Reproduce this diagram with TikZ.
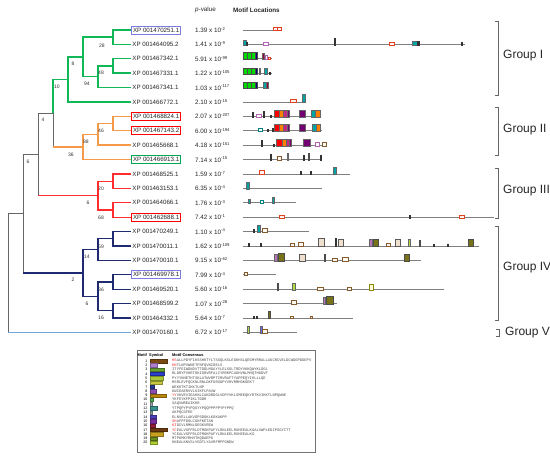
\documentclass[tikz,border=0pt]{standalone}
\usepackage{fontspec}
\setmainfont{Liberation Sans}
\newfontfamily\seqf{Liberation Mono}
\definecolor{cgrn}{HTML}{10B858}
\definecolor{corg}{HTML}{F59A48}
\definecolor{cred}{HTML}{FF2D2D}
\definecolor{cnav}{HTML}{1F2A70}
\definecolor{cblu}{HTML}{6FA8E0}
\definecolor{cbxb}{HTML}{7B7BE0}
\definecolor{cbxr}{HTML}{FF0000}
\definecolor{cbxg}{HTML}{00A650}
\definecolor{m1}{HTML}{7B4A12}
\definecolor{m2}{HTML}{B07FD0}
\definecolor{m3}{HTML}{66A032}
\definecolor{m4}{HTML}{2B3FD0}
\definecolor{m5}{HTML}{A8C83A}
\definecolor{m6}{HTML}{C8C840}
\definecolor{m7}{HTML}{2A3A9A}
\definecolor{m8}{HTML}{8A4FB0}
\definecolor{m9}{HTML}{B8860B}
\definecolor{m10}{HTML}{4CAF50}
\definecolor{m11}{HTML}{9AA0A6}
\definecolor{m12}{HTML}{3A8F8F}
\definecolor{m13}{HTML}{8FA0A0}
\definecolor{m14}{HTML}{4B3FBF}
\definecolor{m15}{HTML}{7A2FA0}
\definecolor{m16}{HTML}{9A1F3F}
\definecolor{m17}{HTML}{6B3A10}
\definecolor{m18}{HTML}{C8A020}
\definecolor{m19}{HTML}{6B8E23}
\definecolor{m20}{HTML}{B0D030}
\newcommand\pexp[1]{\raisebox{2.3pt}{\fontsize{4.2}{4.2}\selectfont #1}}
\newcommand\mrow[3]{%
  \draw[mline] (243,#1) -- (#2,#1);
  \foreach \x/\w/\h/\s in {#3} {\path[\s] (\x,#1+0.6) rectangle ++(\w,-\h);}%
}
\newcommand\lrow[4]{%
  \pgfmathsetmacro\ly{361+4.3*(#1-1)}
  \node[lnum] (n#1) at (147.5,\ly) {#1};
  \filldraw[fill=#3,draw=#3!70!black,line width=0.2pt] (150,\ly-1.7) rectangle ++(#2,3.4);
  \node[lseq] (s#1) at (172,\ly) {#4};
}
\newcommand\rd[1]{\textcolor{red!85}{#1}}
\begin{document}
\begin{tikzpicture}[x=1pt,y=-1pt,
  leaf/.style={anchor=west,inner sep=1.2pt,font=\fontsize{6.2}{7}\selectfont,text=black!85},
  bx/.style={draw=#1,line width=0.9pt,inner ysep=1.8pt,inner xsep=1.6pt},
  pv/.style={anchor=west,inner sep=0pt,font=\fontsize{6.3}{7}\selectfont,text=black!85},
  bs/.style={inner sep=0pt,font=\fontsize{5}{5}\selectfont,text=black!80},
  gbr/.style={draw=cgrn,line width=1.4pt},
  obr/.style={draw=corg,line width=1.4pt},
  rbr/.style={draw=cred,line width=1.3pt},
  nbr/.style={draw=cnav,line width=1.3pt},
  kbr/.style={draw=black!60,line width=0.8pt},
  bbr/.style={draw=cblu,line width=1.3pt},
  mline/.style={draw=black!50,line width=0.8pt},
  brk/.style={draw=black!60,line width=0.7pt},
  grp/.style={anchor=west,inner sep=0pt,font=\fontsize{12}{13}\selectfont,text=black!85},
  lnum/.style={anchor=east,inner sep=0pt,font=\fontsize{3.6}{4}\selectfont},
  lseq/.style={anchor=west,inner sep=0pt,font=\seqf\fontsize{3.8}{4}\selectfont,text=black!70},
  lhd/.style={anchor=west,inner sep=0pt,font=\bfseries\fontsize{3.9}{4}\selectfont},
  sG/.style={fill=green!85!black,draw=black!70,line width=0.35pt},
  sD/.style={fill=black!80,draw=black!80,line width=0.35pt},
  sT/.style={fill=teal!70!cyan,draw=black!60,line width=0.35pt},
  hP/.style={fill=red!5,draw=red!50!brown,line width=0.35pt},
  hL/.style={fill=white,draw=violet!60,line width=0.35pt},
  hN/.style={fill=brown!5,draw=brown!70!black,line width=0.35pt},
  hT/.style={fill=white,draw=teal,line width=0.35pt},
  hY/.style={fill=yellow!15,draw=olive,line width=0.35pt},
  sR/.style={fill=red,draw=black!60,line width=0.35pt},
  sO/.style={fill=orange,draw=black!60,line width=0.35pt},
  sM/.style={fill=magenta!80!black,draw=black!60,line width=0.35pt},
  sQ/.style={fill=purple!80!black,draw=black!60,line width=0.35pt},
  sU/.style={fill=violet!90!black,draw=black!60,line width=0.35pt},
  sV/.style={fill=blue!50!black,draw=black!70,line width=0.35pt},
  sW/.style={fill=violet!55,draw=black!60,line width=0.35pt},
  sK/.style={fill=olive!80!black,draw=black!70,line width=0.35pt},
  sY/.style={fill=yellow!60!green!80,draw=black!60,line width=0.35pt},
  sF/.style={fill=brown!25,draw=black!65,line width=0.35pt},
  sB/.style={fill=blue!60,draw=black!60,line width=0.35pt}
]
\useasboundingbox (0,0) rectangle (550,457);
\fill[white] (0,0) rectangle (550,457);

% leaves
\node[leaf,bx=cbxb] (L1) at (131,30) {XP 001470251.1};
\node[leaf] (L2) at (131,44.4) {XP 001464095.2};
\node[leaf] (L3) at (131,58.8) {XP 001467342.1};
\node[leaf] (L4) at (131,73.2) {XP 001467331.1};
\node[leaf] (L5) at (131,87.6) {XP 001467341.1};
\node[leaf] (L6) at (131,102) {XP 001466772.1};
\node[leaf,bx=cbxr] (L7) at (131,116.4) {XP 001468824.1};
\node[leaf,bx=cbxr] (L8) at (131,130.8) {XP 001467143.2};
\node[leaf] (L9) at (131,145.2) {XP 001465668.1};
\node[leaf,bx=cbxg] (L10) at (131,159.6) {XP 001466913.1};
\node[leaf] (L11) at (131,174) {XP 001468525.1};
\node[leaf] (L12) at (131,188.4) {XP 001463153.1};
\node[leaf] (L13) at (131,202.8) {XP 001464066.1};
\node[leaf,bx=cbxr] (L14) at (131,217.2) {XP 001462688.1};
\node[leaf] (L15) at (131,231.6) {XP 001470249.1};
\node[leaf] (L16) at (131,246) {XP 001470011.1};
\node[leaf] (L17) at (131,260.4) {XP 001470010.1};
\node[leaf,bx=cbxb] (L18) at (131,274.8) {XP 001469978.1};
\node[leaf] (L19) at (131,289.2) {XP 001469520.1};
\node[leaf] (L20) at (131,303.6) {XP 001468599.2};
\node[leaf] (L21) at (131,318) {XP 001464332.1};
\node[leaf] (L22) at (131,332.4) {XP 001470160.1};

% internal nodes
\coordinate (g1) at (113,37.2);
\coordinate (g2) at (113,66);
\coordinate (g3) at (98,76.8);
\coordinate (g4) at (83,57);
\coordinate (g5) at (68,79.5);
\coordinate (o1) at (113,123.6);
\coordinate (o2) at (98,134.4);
\coordinate (o3) at (83,147);
\coordinate (go) at (53,113.25);
\coordinate (r1) at (113,181.2);
\coordinate (r2) at (113,210);
\coordinate (r3) at (98,195.6);
\coordinate (a1) at (38,154.4);
\coordinate (n1) at (113,238.8);
\coordinate (n2) at (98,249.6);
\coordinate (n3) at (113,282);
\coordinate (n4) at (113,310.8);
\coordinate (n5) at (98,296.4);
\coordinate (n6) at (83,273);
\coordinate (a2) at (23,213.7);
\coordinate (root) at (8,273);

\draw[kbr] (go) -- (go |- o3) (a1) |- (go) (a1) -- (a1 |- r3) (a2) |- (a1)
  (a2) -- (a2 |- n6) (root) |- (a2) (root) -- (root |- L22.west);
\draw[gbr] (g1) |- (L1.west) (g1) |- (L2.west) (g2) |- (L3.west) (g2) |- (L4.west)
  (g3) |- (g2) (g3) |- (L5.west) (g4) |- (g1) (g4) |- (g3) (g5) |- (g4) (g5) |- (L6.west)
  (go) |- (g5);
\draw[obr] (go |- o3) -- (o3) (o3) |- (o2) (o3) |- (L10.west) (o2) |- (o1) (o2) |- (L9.west)
  (o1) |- (L7.west) (o1) |- (L8.west);
\draw[rbr] (a1 |- r3) -- (r3) (r3) |- (r1) (r3) |- (r2) (r1) |- (L11.west) (r1) |- (L12.west)
  (r2) |- (L13.west) (r2) |- (L14.west);
\draw[nbr] (a2 |- n6) -- (n6) (n6) |- (n2) (n6) |- (n5) (n2) |- (n1) (n2) |- (L17.west)
  (n1) |- (L15.west) (n1) |- (L16.west) (n5) |- (n3) (n5) |- (n4)
  (n3) |- (L18.west) (n3) |- (L19.west) (n4) |- (L20.west) (n4) |- (L21.west);
\draw[bbr] (root |- L22.west) -- (L22.west);

% bootstrap values
\node[bs] (b1) at (102,45.5) {28};
\node[bs] (b2) at (73,64) {8};
\node[bs] (b3) at (101,73) {48};
\node[bs] (b4) at (87,84) {94};
\node[bs] (b5) at (57,87) {10};
\node[bs] (b6) at (43,120) {4};
\node[bs] (b7) at (101,131) {46};
\node[bs] (b8) at (86,142) {88};
\node[bs] (b9) at (71,155) {36};
\node[bs] (b10) at (28,162) {6};
\node[bs] (b11) at (101,189) {20};
\node[bs] (b12) at (88,203) {6};
\node[bs] (b13) at (101,218) {68};
\node[bs] (b14) at (101,247) {59};
\node[bs] (b15) at (87,257) {14};
\node[bs] (b16) at (73,280) {2};
\node[bs] (b17) at (101,290) {36};
\node[bs] (b18) at (87,304) {6};
\node[bs] (b19) at (101,318) {16};

% headers
\node[pv] (hp) at (195,10) {\textit{p}-value};
\node[pv,font=\bfseries\fontsize{6.3}{7}\selectfont] (hm) at (233,10) {Motif Locations};

% p-values
\node[pv] (P1) at (195,30) {1.39 x 10\pexp{-2}};
\node[pv] (P2) at (195,44.4) {1.41 x 10\pexp{-9}};
\node[pv] (P3) at (195,58.8) {5.91 x 10\pexp{-99}};
\node[pv] (P4) at (195,73.2) {1.22 x 10\pexp{-105}};
\node[pv] (P5) at (195,87.6) {1.03 x 10\pexp{-117}};
\node[pv] (P6) at (195,102) {2.10 x 10\pexp{-15}};
\node[pv] (P7) at (195,116.4) {2.07 x 10\pexp{-207}};
\node[pv] (P8) at (195,130.8) {6.00 x 10\pexp{-194}};
\node[pv] (P9) at (195,145.2) {4.18 x 10\pexp{-151}};
\node[pv] (P10) at (195,159.6) {7.14 x 10\pexp{-15}};
\node[pv] (P11) at (195,174) {1.59 x 10\pexp{-7}};
\node[pv] (P12) at (195,188.4) {6.35 x 10\pexp{-4}};
\node[pv] (P13) at (195,202.8) {1.76 x 10\pexp{-3}};
\node[pv] (P14) at (195,217.2) {7.42 x 10\pexp{-1}};
\node[pv] (P15) at (195,231.6) {1.10 x 10\pexp{-4}};
\node[pv] (P16) at (195,246) {1.62 x 10\pexp{-109}};
\node[pv] (P17) at (195,260.4) {9.15 x 10\pexp{-62}};
\node[pv] (P18) at (195,274.8) {7.99 x 10\pexp{-4}};
\node[pv] (P19) at (195,289.2) {5.60 x 10\pexp{-16}};
\node[pv] (P20) at (195,303.6) {1.07 x 10\pexp{-28}};
\node[pv] (P21) at (195,318) {5.64 x 10\pexp{-7}};
\node[pv] (P22) at (195,332.4) {6.72 x 10\pexp{-17}};

% motif locations
\mrow{30}{281}{273/4/3/hP,277/4/3/hP}
\mrow{44.4}{465}{243/3/5/sT,246/1/3/sD,263/5/3/hL,334/1/7/sD,389/5/3/hP,412/5/4/sT,417/2/4/sD,461/1/3/sD}
\mrow{58.8}{272}{243/4/7/sG,247/4/7/sG,251/4/7/sG,255/2/7/sV,262/2/6/sQ,265/2/4/hL,268/2/2/hP}
\mrow{73.2}{272}{243/4/6/sG,247/4/6/sG,251/4/6/sG,255/2/6/sV,259/1.5/6/sQ,264/3/6/sT,269/1/2/sD}
\mrow{87.6}{268}{243/4/6/sG,247/4/6/sG,251/4/6/sG,255/2/6/sV,263/3/6/sT,266/2/6/sQ}
\mrow{102}{306}{290/6/3/hP,302/3/8/sT}
\mrow{116.4}{320}{252/1/5/sD,256/5/3/hL,263/1.2/6/sD,270/1/2/sD,274/5/7/sR,279/4/7/sO,283/4/7/sM,287/2/7/sU,299/6/7/sU,311/4/7/sT,315/5/7/sO}
\mrow{130.8}{322}{258/4/3/hT,267/1/2/sD,272/1/3/sD,274/5/7/sR,279/4/7/sO,283/4/7/sM,287/2/7/sU,299/6/7/sU,312/4/7/sT,316/4/7/sO}
\mrow{145.2}{326}{261/1/6/sD,273/1/2/sD,276/6/7/sR,282/4/7/sO,286/3/7/sM,289/2/7/sU,303/7/7/sU,315/4/4/hL,322/4/4/hN}
\mrow{159.6}{322}{270/1/6/sD,277/4/4/hN,287/1.5/7/sM,303/1/5/sD,308/1.5/7/sV,320/1/5/sD}
\mrow{174}{350}{259/5/4/hP,300/1/3/sD,310/1/3/sD,333/3/7/sT}
\mrow{188.4}{322}{246/3/7/sT}
\mrow{202.8}{296}{248/2/4/sT,260/3/3/hT,272/2.5/6/sT}
\mrow{217.2}{494}{279/5/3/hP,409/1/3/sD,459/5/3/hP}
\mrow{231.6}{309}{253/1.5/3/sD,257/3/7/sT,262/5/4/hN}
\mrow{246}{479}{248/1.5/3/sD,260/1/3/sD,290/4/3/hN,298/5/4/hN,318/6/8/sF,335/1.2/8/sD,338/5/7/sF,369/3/7/sW,373/5/7/sK,386/4/3/hN,395/5/7/sF,408/2/7/sY,419/1.5/6/sV,433/1/2/sD,447/1/2/sD,468/5/7/sK}
\mrow{260.4}{421}{274/3/7/sW,278/6/8/sK,299/6/7/sF,324/1.5/7/sV,332/5/3/hN,342/6/4/hN,404/5/7/sK}
\mrow{274.8}{276}{244/3/3/hN}
\mrow{289.2}{444}{277/1.5/7/sK,292/3/7/sY,317/6/3/hN,347/4/3/hN,369/4/6/hY}
\mrow{303.6}{337}{291/5/4/hN,323/2.5/7/sW,326/7/8/sK}
\mrow{318}{353}{253/1/2/sD,256/1/2/sD,268/2/7/sK,290/3/2/hN,310/2/2/hN}
\mrow{332.4}{297}{247/2.5/7/sY,260/2/7/sB,262/5/4/hN}

% group brackets
\draw[brk] (495,21) -- (498,21) -- (498,95) -- (495,95);
\node[grp] (G1) at (503,56) {Group I};
\draw[brk] (495,107) -- (498,107) -- (498,155) -- (495,155);
\node[grp] (G2) at (503,130) {Group II};
\draw[brk] (495,168) -- (498,168) -- (498,218) -- (495,218);
\node[grp] (G3) at (503,191) {Group III};
\draw[brk] (495,226) -- (498,226) -- (498,320) -- (495,320);
\node[grp] (G4) at (503,268) {Group IV};
\draw[brk] (496,329.5) -- (499,329.5) -- (499,336) -- (496,336);
\node[grp] (G5) at (505,333) {Group V};

% legend
\node[draw=black!55,line width=0.6pt,minimum width=178pt,minimum height=102pt,anchor=north west,inner sep=0pt] (leg) at (137,350) {};
\node[lhd] (lh1) at (137.5,355) {Motif};
\node[lhd] (lh2) at (149,355) {Symbol};
\node[lhd] (lh3) at (172,355) {Motif Consensus};
\lrow{1}{17}{m1}{\rd{HS}ALLPDYFIKSSHKTYLTSSQLKSLEGKHSLQEGMYRRALLAGCRCVELDCWDGPDGEPV}
\lrow{2}{7}{m2}{\rd{KN}TLNPVWNETFNFQVNIDELS}
\lrow{3}{14}{m3}{ITYFEIWDNDVTTDDLMGAYYLELSGLTRDYVKKQWYKLDGL}
\lrow{4}{14}{m4}{RLDRYFVKRTDKIGRVRFALIYRRKPCAGHVNLMHQTHGDVF}
\lrow{5}{13}{m5}{PYYYNHETHTSKLATWVRPTIRVRAFTYAPPEQYIKLLLQE}
\lrow{6}{12}{m6}{MSRLEVFQCKNLRNLDKFGRSDPYVRVRMHGKGEKT}
\lrow{7}{4}{m7}{WEKKTKTIKKTLNP}
\lrow{8}{6}{m8}{KWIEAERVVLGIKFLPAVW}
\lrow{9}{16}{m9}{\rd{YY}VKVEVIEAKNLIAKDRDGLVDPYVKLSMEEQKYRTKVIKKTLNPQWNE}
\lrow{10}{3}{m10}{YKFEYKFPIKLTDDR}
\lrow{11}{2}{m11}{SAQVWREAIKKR}
\lrow{12}{7}{m12}{YTPQPYPYPQGYYPQQPPPPPYPYPPQ}
\lrow{13}{2}{m13}{AKPQCGFEE}
\lrow{14}{6}{m14}{ELNVELLAKVDPSDGKLKGKAKPP}
\lrow{15}{6}{m15}{\rd{SH}AFPFDGLCGKFKETAN}
\lrow{16}{5}{m16}{\rd{KI}DCVLRMNLDEGKVREW}
\lrow{17}{17}{m17}{\rd{YC}EALVSFFRLDTMGKPAFYLRNLEELRSHEEALKGALVWPLEDIPSGYITT}
\lrow{18}{13}{m18}{YCEALVSFFRLDTMGKPAFYLRNLEELRSHEEALKG}
\lrow{19}{7}{m19}{MTPKMKYRHHTKQDAEPG}
\lrow{20}{7}{m20}{KNEALKNVSLVGDTLYAVRFMFPGNEW}
\end{tikzpicture}
\end{document}
